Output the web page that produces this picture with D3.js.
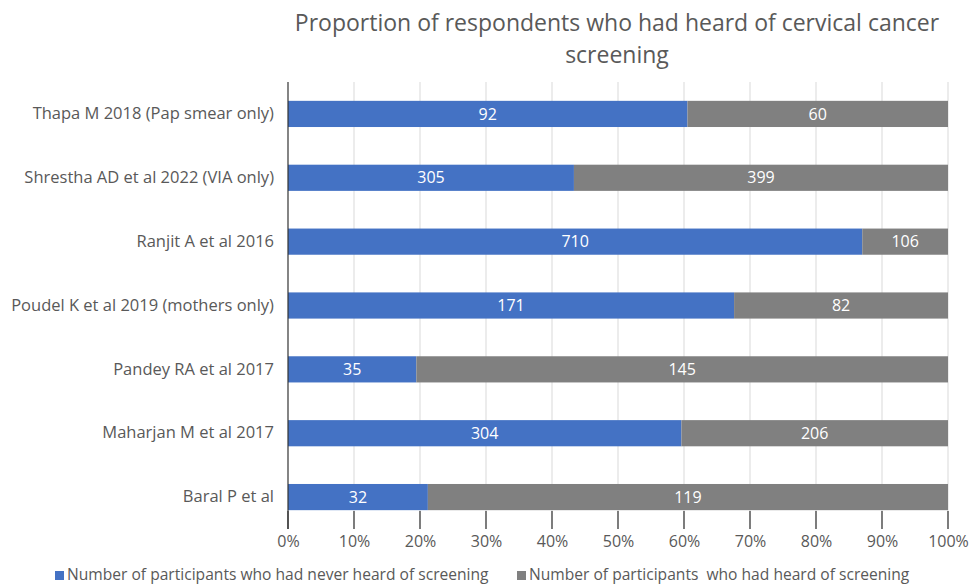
<!DOCTYPE html>
<html><head><meta charset="utf-8">
<script src="https://cdn.jsdelivr.net/npm/d3@7"></script>
<style>body{margin:0;background:#fff}svg{display:block}text{font-family:"Open Sans",sans-serif}</style>
</head><body>
<svg id="c" width="971" height="587"></svg>
<script>
const categories = ["Thapa M 2018 (Pap smear only)","Shrestha AD et al 2022 (VIA only)","Ranjit A et al 2016","Poudel K et al 2019 (mothers only)","Pandey RA et al 2017","Maharjan M et al 2017","Baral P et al"];
const neverHeard = [92,305,710,171,35,304,32];
const heard = [60,399,106,82,145,206,119];
const seriesNames = ["Number of participants who had never heard of screening","Number of participants  who had heard of screening"];
const colors = ["#4472C4","#808080"];
const tickValues = [0,0.1,0.2,0.3,0.4,0.5,0.6,0.7,0.8,0.9,1];

const svg = d3.select("#c");
const L=288, R=948, T=82, B=529;
const x = d3.scaleLinear().domain([0,1]).range([L,R]);
const y = d3.scaleBand().domain(categories).range([T,B]).paddingInner(0.59).paddingOuter(0.295);

// title
svg.append("text").attr("x",617).attr("y",31).attr("text-anchor","middle").attr("fill","#595959").style("font-size","23px").text("Proportion of respondents who had heard of cervical cancer");
svg.append("text").attr("x",617).attr("y",63).attr("text-anchor","middle").attr("fill","#595959").style("font-size","23px").text("screening");

// gridlines
svg.append("g").selectAll("line").data(tickValues.slice(1)).join("line")
  .attr("x1",d=>x(d)).attr("x2",d=>x(d)).attr("y1",T).attr("y2",B)
  .attr("stroke","#d9d9d9").attr("stroke-width",1);

// bars
const rows = categories.map((c,i)=>({c, a:neverHeard[i], b:heard[i], t:neverHeard[i]+heard[i]}));
const g = svg.append("g");
rows.forEach(r=>{
  const p = r.a/r.t;
  const segs = [{x0:0,x1:p,v:r.a,col:colors[0]},{x0:p,x1:1,v:r.b,col:colors[1]}];
  segs.forEach(s=>{
    g.append("rect").attr("x",x(s.x0)).attr("width",x(s.x1)-x(s.x0)).attr("y",y(r.c)).attr("height",y.bandwidth()).attr("fill",s.col);
    g.append("text").attr("x",(x(s.x0)+x(s.x1))/2).attr("y",y(r.c)+y.bandwidth()/2).attr("dy","0.35em")
      .attr("text-anchor","middle").attr("fill","#fff").style("font-size","16px").text(s.v);
  });
});

// x axis ticks
const xa = svg.append("g").attr("transform",`translate(0,${B})`)
  .call(d3.axisBottom(x).tickValues(tickValues).tickFormat(d3.format(".0%")).tickSize(0).tickPadding(7));
xa.select(".domain").remove();
xa.selectAll("text").attr("fill","#595959").style("font-size","16px");
svg.append("g").selectAll("line").data(tickValues).join("line")
  .attr("x1",d=>x(d)).attr("x2",d=>x(d)).attr("y1",B-18).attr("y2",B)
  .attr("stroke","#333").attr("stroke-width",1.2);

// y axis
svg.append("line").attr("x1",L).attr("x2",L).attr("y1",T).attr("y2",B).attr("stroke","#333").attr("stroke-width",1.2);
const ya = svg.append("g").attr("transform",`translate(${L},0)`).call(d3.axisLeft(y).tickSize(0).tickPadding(14));
ya.select(".domain").remove();
ya.selectAll("text").attr("fill","#595959").style("font-size","16.5px");

// legend
const lg = svg.append("g");
const lx = [55,517];
seriesNames.forEach((n,i)=>{
  lg.append("rect").attr("x",lx[i]).attr("y",571).attr("width",9).attr("height",9).attr("fill",colors[i]);
  lg.append("text").attr("x",lx[i]+12).attr("y",575).attr("dy","0.35em").attr("fill","#595959").style("font-size","15.6px").style("white-space","pre").attr("xml:space","preserve").text(n);
});
</script>
</body></html>
